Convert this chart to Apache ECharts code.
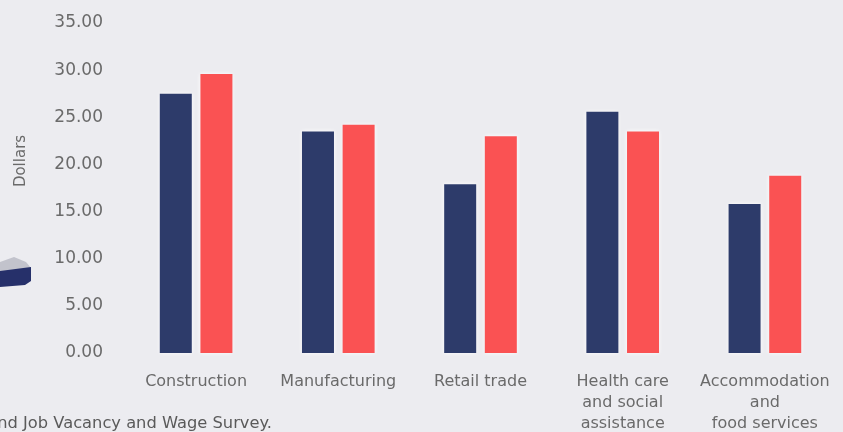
<!DOCTYPE html>
<html>
<head>
<meta charset="utf-8">
<script src="https://cdn.jsdelivr.net/npm/echarts@6/dist/echarts.min.js"></script>
<style>
  html, body { margin: 0; padding: 0; background: #ececf0; }
  #chart { width: 843px; height: 432px; }
</style>
</head>
<body>
<div id="chart"></div>
<script>
// Average hourly wage by industry, two periods
const categories = [
  'Construction',
  'Manufacturing',
  'Retail trade',
  'Health care\nand social\nassistance',
  'Accommodation\nand\nfood services'
];
const seriesA = [27.5, 23.5, 17.9, 25.6, 15.8];
const seriesB = [29.6, 24.2, 23.0, 23.5, 18.8];
const yTicks = { min: 0, max: 35, interval: 5 };

const navy = '#2d3b6a';
const coral = '#fa5253';
const textColor = '#6a6a6a';
const font = 'DejaVu Sans';

const chart = echarts.init(document.getElementById('chart'));

const barStyle = (color) => ({
  color: color,
  shadowColor: 'rgba(255,255,255,0.95)',
  shadowBlur: 4
});

chart.setOption({
  backgroundColor: '#ececf0',
  animation: false,
  grid: { left: 125, right: 7, top: 23, bottom: 79, outerBoundsMode: 'none', containLabel: false },
  xAxis: {
    type: 'category',
    data: categories,
    axisLine: { show: false },
    axisTick: { show: false },
    axisLabel: {
      color: textColor,
      fontFamily: font,
      fontSize: 16,
      lineHeight: 21,
      margin: 18,
      interval: 0
    }
  },
  yAxis: {
    type: 'value',
    min: yTicks.min,
    max: yTicks.max,
    interval: yTicks.interval,
    axisLine: { show: false },
    axisTick: { show: false },
    splitLine: { show: false },
    axisLabel: {
      color: textColor,
      fontFamily: font,
      fontSize: 17,
      margin: 22,
      formatter: (v) => v.toFixed(2)
    }
  },
  series: [
    {
      type: 'bar',
      data: seriesA,
      barWidth: 32,
      barGap: '27%',
      itemStyle: barStyle(navy)
    },
    {
      type: 'bar',
      data: seriesB,
      barWidth: 32,
      itemStyle: barStyle(coral)
    }
  ],
  graphic: [
    {
      type: 'text',
      x: 21,
      y: 161,
      rotation: Math.PI / 2,
      style: {
        text: 'Dollars',
        fill: textColor,
        font: '15px "DejaVu Sans"',
        align: 'center',
        verticalAlign: 'middle'
      }
    },
    {
      type: 'text',
      x: 272,
      y: 424,
      style: {
        text: 'and Job Vacancy and Wage Survey.',
        fill: '#5a5a5a',
        font: '16.3px "DejaVu Sans"',
        align: 'right',
        verticalAlign: 'middle'
      }
    },
    {
      type: 'polygon',
      shape: { points: [[0, 262], [14, 257], [26, 262], [31, 268], [0, 272]] },
      style: { fill: '#c2c3cc' }
    },
    {
      type: 'polygon',
      shape: { points: [[0, 271], [31, 267], [31, 281], [25, 285], [0, 287]] },
      style: { fill: '#26306a' }
    }
  ]
});
</script>
</body>
</html>
